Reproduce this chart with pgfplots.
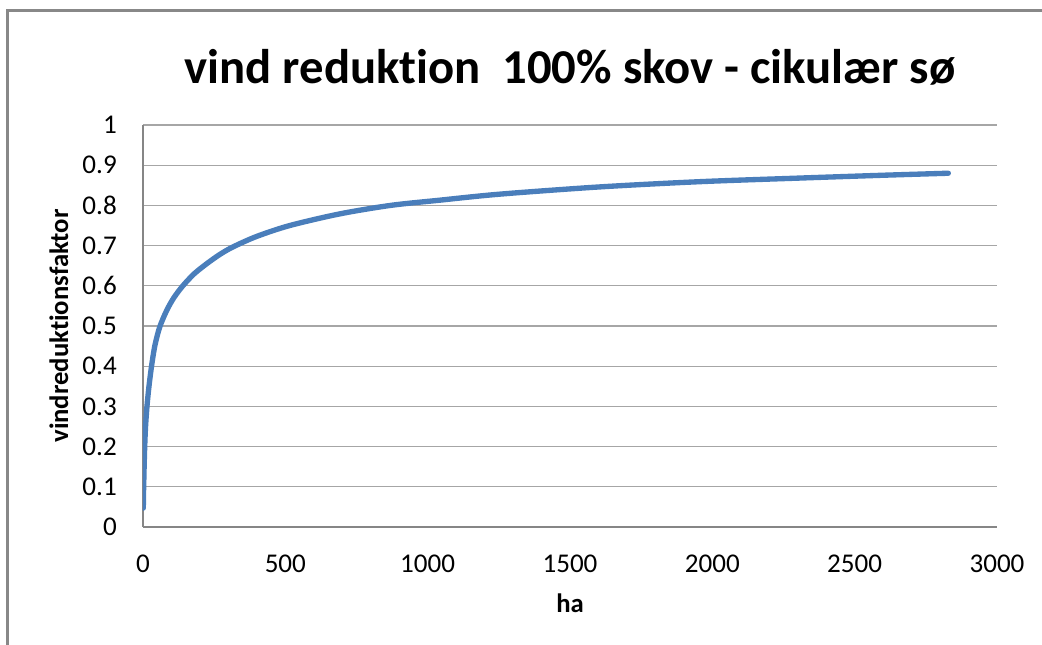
\documentclass[border=0pt]{standalone}
\usepackage{pgfplots}
\pgfplotsset{compat=1.18}
\usepackage{fontspec}
\setmainfont{Carlito}[Ligatures={NoCommon}]
\definecolor{serie}{RGB}{74,126,187}
\definecolor{gridc}{RGB}{166,166,166}
\definecolor{axl}{RGB}{134,134,134}
\definecolor{framec}{RGB}{136,136,136}
\begin{document}
\begin{tikzpicture}[x=1pt,y=1pt]
\useasboundingbox (-107.25,-88.5) rectangle (674.25,395.25);
\draw[framec, line width=2pt] (-101.8,-88.5) -- (-101.8,387.2) -- (674.25,387.2);
\begin{axis}[at={(0,0)}, anchor=south west, scale only axis,
  width=640.5pt, height=301.5pt,
  xmin=0, xmax=3000, ymin=0, ymax=1,
  xtick={0,500,1000,1500,2000,2500,3000},
  ytick={0,0.1,0.2,0.3,0.4,0.5,0.6,0.7,0.8,0.9,1},
  axis x line=bottom, axis y line=left,
  axis line style={draw=axl, line width=1pt, -},
  major tick length=0pt,
  ymajorgrids, grid style={gridc, line width=0.9pt},
  tick label style={font=\fontsize{20.3}{24}\selectfont},
  /pgf/number format/assume math mode=true,
  yticklabel style={/pgf/number format/fixed, /pgf/number format/precision=1, anchor=east, inner sep=0pt, xshift=-19.5pt},
  xticklabel style={anchor=base, inner sep=0pt, yshift=-34.5pt, /pgf/number format/set thousands separator={}},
  xlabel={ha}, ylabel={vindreduktionsfaktor},
  label style={font=\fontsize{20}{24}\selectfont\bfseries},
  xlabel style={at={(axis description cs:0.5,0)}, anchor=base, yshift=-64.5pt, inner sep=0pt},
  ylabel style={at={(axis description cs:-0.0878,0.5)}, anchor=base, inner sep=0pt},
  title={vind reduktion\ \ 100\% skov - cikulær sø},
  title style={at={(axis description cs:0.5,1)}, anchor=base, yshift=25pt, inner sep=0pt, font=\fontsize{36.5}{40}\selectfont\bfseries},
]
\addplot[serie, line width=4pt, smooth, line cap=round] coordinates {
(1,0.047)(2,0.09)(3,0.12)(4,0.15)(6,0.2)(9,0.25)(14,0.3)(21,0.35)(30,0.4)(40,0.445)(50,0.476)(60,0.5)(75,0.526)(90,0.548)(110,0.572)(140,0.6)(180,0.63)(224,0.655)(270,0.678)(317,0.697)(400,0.723)(516,0.75)(692,0.779)(870,0.8)(1043,0.813)(1254,0.828)(1605,0.846)(1956,0.859)(2308,0.868)(2600,0.875)(2829,0.88)
};
\end{axis}
\end{tikzpicture}
\end{document}
